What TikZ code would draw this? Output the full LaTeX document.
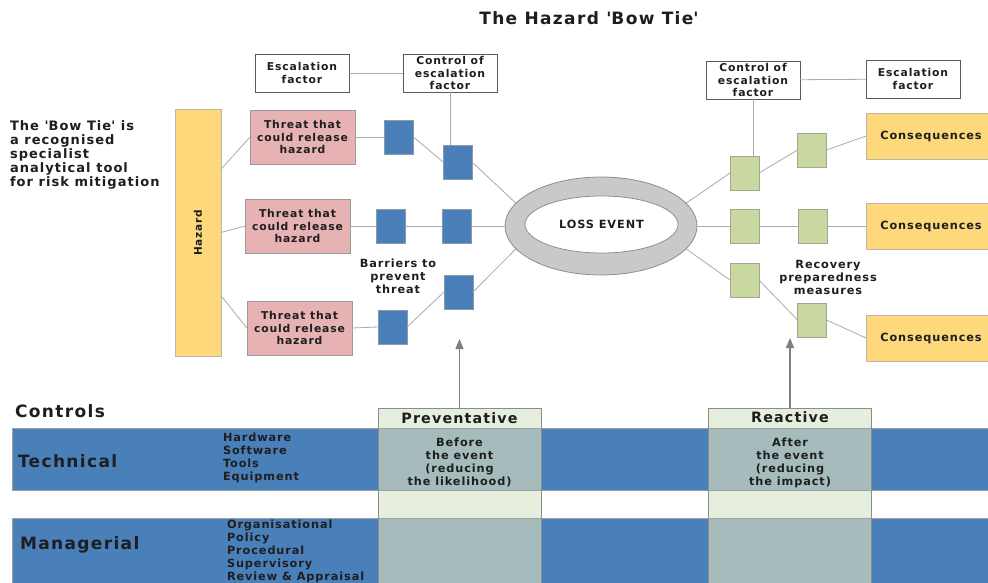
\documentclass[tikz,border=0pt]{standalone}
\usepackage{fontspec}
\setmainfont{DejaVu Sans}[LetterSpace=8]
\usetikzlibrary{shapes.geometric,arrows.meta}
\definecolor{txt}{HTML}{1E1E1E}
\definecolor{linegray}{HTML}{ABABAB}
\definecolor{boxline}{HTML}{5A5A5A}
\definecolor{threatfill}{HTML}{E6B2B4}
\definecolor{threatline}{HTML}{9A9A9A}
\definecolor{bluefill}{HTML}{4A7FBA}
\definecolor{blueline}{HTML}{8A9AAE}
\definecolor{greenfill}{HTML}{C8D8A0}
\definecolor{greenline}{HTML}{A0A890}
\definecolor{yelfill}{HTML}{FDD97C}
\definecolor{yelline}{HTML}{BDB7A4}
\definecolor{ringfill}{HTML}{C9C9C9}
\definecolor{ringline}{HTML}{8E8E8E}
\definecolor{bandblue}{HTML}{4A80BA}
\definecolor{bandline}{HTML}{A0A0A0}
\definecolor{colgreen}{HTML}{E6EEDD}
\definecolor{colover}{HTML}{A5BBBC}
\definecolor{colline}{HTML}{8C8C8C}
\definecolor{arrowgray}{HTML}{7F7F7F}
\newcommand\fsTitle{\bfseries\fontsize{17}{20}\selectfont}
\newcommand\fsDesc{\bfseries\fontsize{13}{14}\selectfont}
\newcommand\fsBox{\bfseries\fontsize{10.8}{12.5}\selectfont}
\newcommand\fsMid{\bfseries\fontsize{11.3}{13}\selectfont}
\newcommand\fsBig{\bfseries\fontsize{17}{20}\selectfont}
\newcommand\fsHead{\bfseries\fontsize{14.3}{16}\selectfont}
\tikzset{
  every node/.style={inner sep=0pt, outer sep=0pt, text=txt},
  conn/.style={draw=linegray, line width=0.8pt},
  whitebox/.style={draw=boxline, line width=0.7pt, fill=white, minimum width=94pt, minimum height=38pt, align=center, font=\fsBox},
  threat/.style={draw=threatline, line width=0.7pt, fill=threatfill, minimum width=105pt, minimum height=54pt, align=center, font=\fsBox},
  bluebox/.style={draw=blueline, line width=0.7pt, fill=bluefill, minimum width=29pt, minimum height=34pt},
  greenbox/.style={draw=greenline, line width=0.7pt, fill=greenfill, minimum width=29pt, minimum height=34pt},
  conseq/.style={draw=yelline, line width=0.7pt, fill=yelfill, minimum width=130pt, minimum height=46pt, font=\fsMid},
  band/.style={draw=bandline, line width=0.7pt, fill=bandblue, minimum width=980pt},
  colbox/.style={fill=colgreen, minimum width=163pt, minimum height=176pt},
  smalltext/.style={font=\fsMid, align=center},
  listtext/.style={font=\fsMid, align=left, anchor=west},
  arrowline/.style={draw=arrowgray, line width=1.3pt, -{Triangle[length=10pt,width=8pt]}},
}
\begin{document}
\begin{tikzpicture}[x=1pt,y=-1pt]
\useasboundingbox (0,0) rectangle (988,583);
\fill[white] (0,0) rectangle (988,583);

% title and description
\node[font=\fsTitle] (title) at (589,18) {The Hazard \textquotesingle Bow Tie\textquotesingle};
\node[font=\fsDesc, align=left, anchor=west] (desc) at (10,155) {The \textquotesingle Bow Tie\textquotesingle\ is\\a recognised\\specialist\\analytical tool\\for risk mitigation};

% escalation boxes
\node[whitebox] (esc1) at (302,73) {Escalation\\factor};
\node[whitebox] (ctl1) at (450,73) {Control of\\escalation\\factor};
\node[whitebox] (ctl2) at (753,80) {Control of\\escalation\\factor};
\node[whitebox] (esc2) at (913,79) {Escalation\\factor};

% hazard and threats
\node[draw=yelline, line width=0.7pt, fill=yelfill, minimum width=46pt, minimum height=247pt] (haz) at (198,232.5) {};
\node[font=\bfseries\fontsize{10.5}{12}\selectfont, rotate=90] (hazt) at (198,233) {Hazard};
\node[threat] (thr1) at (302.5,137) {Threat that\\could release\\hazard};
\node[threat] (thr2) at (297.5,226) {Threat that\\could release\\hazard};
\node[threat] (thr3) at (299.5,328) {Threat that\\could release\\hazard};

% barriers
\node[bluebox] (b1a) at (399,137) {};
\node[bluebox] (b1b) at (457.5,162) {};
\node[bluebox] (b2a) at (390.5,226) {};
\node[bluebox] (b2b) at (456.5,226) {};
\node[bluebox] (b3a) at (392.5,327) {};
\node[bluebox] (b3b) at (458.5,292) {};
\node[smalltext] (barr) at (398,276) {Barriers to\\prevent\\threat};

% loss event
\node[ellipse, draw=ringline, line width=0.8pt, fill=ringfill, minimum width=192pt, minimum height=98pt] (loss) at (601,226) {};
\node[ellipse, draw=ringline, line width=0.8pt, fill=white, minimum width=153pt, minimum height=57pt, font=\fsMid] (lossin) at (601.5,224.5) {LOSS EVENT};

% recovery
\node[greenbox] (g1a) at (744.5,173) {};
\node[greenbox] (g1b) at (812,150) {};
\node[greenbox] (g2a) at (744.5,226) {};
\node[greenbox] (g2b) at (813,226) {};
\node[greenbox] (g3a) at (744.5,280) {};
\node[greenbox] (g3b) at (812,320) {};
\node[smalltext] (recov) at (828,277) {Recovery\\preparedness\\measures};

% consequences
\node[conseq] (con1) at (931,136) {Consequences};
\node[conseq] (con2) at (931,226) {Consequences};
\node[conseq] (con3) at (931,338) {Consequences};

% connectors
\draw[conn] (esc1) -- (ctl1);
\draw[conn] (ctl1.south) -- (ctl1.south |- b1b.north);
\draw[conn] (ctl2) -- (esc2);
\draw[conn] (ctl2.south) -- (ctl2.south |- g1a.north);
\draw[conn] (haz.70) -- (thr1.west);
\draw[conn] (haz.east) -- (thr2.west);
\draw[conn] (haz.-70) -- (thr3.west);
\draw[conn] (thr1.east) -- (b1a.west);
\draw[conn] (b1a.east) -- (b1b.west);
\draw[conn] (b1b.east) -- (loss.165);
\draw[conn] (thr2.east) -- (b2a.west);
\draw[conn] (b2a.east) -- (b2b.west);
\draw[conn] (b2b.east) -- (loss.west);
\draw[conn] (thr3.east) -- (b3a.west);
\draw[conn] (b3a.east) -- (b3b.west);
\draw[conn] (b3b.east) -- (loss.195);
\draw[conn] (loss.15) -- (g1a.west);
\draw[conn] (g1a.east) -- (g1b.west);
\draw[conn] (g1b.east) -- (con1.west);
\draw[conn] (loss.east) -- (g2a.west);
\draw[conn] (g2a.east) -- (g2b.west);
\draw[conn] (g2b.east) -- (con2.west);
\draw[conn] (loss.-15) -- (g3a.west);
\draw[conn] (g3a.east) -- (g3b.west);
\draw[conn] (g3b.east) -- (con3.west);

% controls section
\node[font=\fsBig, anchor=west] (ctrl) at (15,411) {Controls};
\node[band, minimum height=62pt] (tech) at (502,459) {};
\node[band, minimum height=68pt] (mana) at (502,552) {};
\node[colbox] (prev) at (459.5,496) {};
\node[colbox] (reac) at (790,496) {};
\fill[colover] (prev.west |- tech.north) rectangle (prev.east |- tech.south);
\fill[colover] (prev.west |- mana.north) rectangle (prev.east |- mana.south);
\fill[colover] (reac.west |- tech.north) rectangle (reac.east |- tech.south);
\fill[colover] (reac.west |- mana.north) rectangle (reac.east |- mana.south);
\draw[bandline, line width=0.7pt] (prev.west |- tech.north) -- (prev.east |- tech.north)
  (prev.west |- tech.south) -- (prev.east |- tech.south)
  (prev.west |- mana.north) -- (prev.east |- mana.north)
  (reac.west |- tech.north) -- (reac.east |- tech.north)
  (reac.west |- tech.south) -- (reac.east |- tech.south)
  (reac.west |- mana.north) -- (reac.east |- mana.north);
\draw[colline, line width=0.8pt] (prev.south west) rectangle (prev.north east);
\draw[colline, line width=0.8pt] (reac.south west) rectangle (reac.north east);

\node[font=\fsBig, anchor=west] (techt) at (18,461) {Technical};
\node[font=\fsBig, anchor=west] (manat) at (20,545) {Managerial};
\node[listtext] (techl) at (223,457.5) {Hardware\\Software\\Tools\\Equipment};
\node[listtext] (manal) at (227,551.5) {Organisational\\Policy\\Procedural\\Supervisory\\Review \& Appraisal};

\node[font=\fsHead] (prevh) at (459.5,418) {Preventative};
\node[font=\fsHead] (reach) at (790,417) {Reactive};
\node[smalltext] (prevt) at (459.5,462.5) {Before\\the event\\(reducing\\the likelihood)};
\node[smalltext] (react) at (790,462.5) {After\\the event\\(reducing\\the impact)};

% arrows
\coordinate (tipL) at (459.5,339);
\coordinate (tipR) at (790,338);
\draw[arrowline] (prev.north) -- (tipL);
\draw[arrowline] (reac.north) -- (tipR);
\end{tikzpicture}
\end{document}
